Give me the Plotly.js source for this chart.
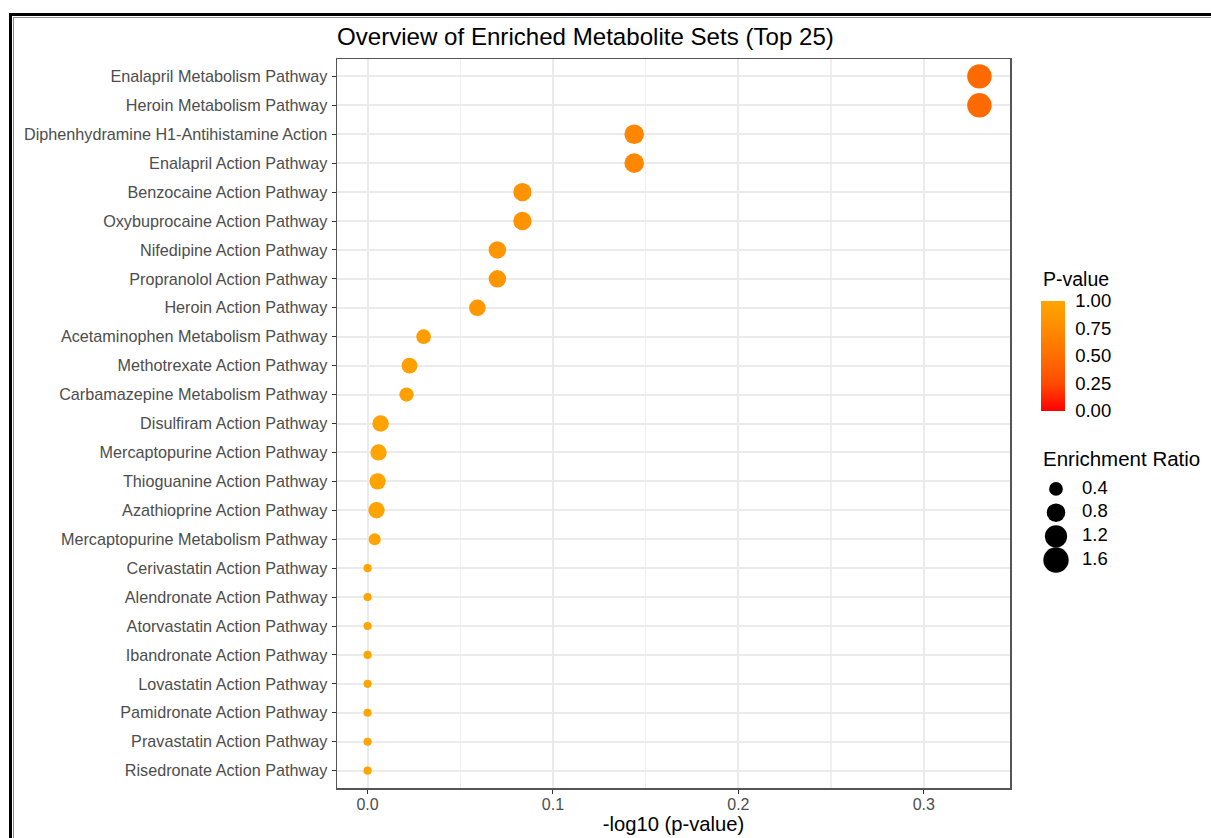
<!DOCTYPE html>
<html>
<head>
<meta charset="utf-8">
<script src="https://cdn.plot.ly/plotly-3.0.1.min.js"></script>
<style>
html,body{margin:0;padding:0;background:#fff;width:1211px;height:838px;overflow:hidden;}
#chart{position:absolute;left:0;top:0;width:1211px;height:838px;}
#frameOuter{position:absolute;left:9px;top:13px;width:1300px;height:900px;border-left:3px solid #000;border-top:3px solid #000;pointer-events:none;}
#frameInner{position:absolute;left:13px;top:17px;width:1300px;height:900px;border-left:1px solid #8a8a8a;border-top:1px solid #8a8a8a;pointer-events:none;}
</style>
</head>
<body>
<div id="chart"></div>
<div id="frameOuter"></div>
<div id="frameInner"></div>
<script>
// ---- data ----
const categories = [
  "Enalapril Metabolism Pathway",
  "Heroin Metabolism Pathway",
  "Diphenhydramine H1-Antihistamine Action",
  "Enalapril Action Pathway",
  "Benzocaine Action Pathway",
  "Oxybuprocaine Action Pathway",
  "Nifedipine Action Pathway",
  "Propranolol Action Pathway",
  "Heroin Action Pathway",
  "Acetaminophen Metabolism Pathway",
  "Methotrexate Action Pathway",
  "Carbamazepine Metabolism Pathway",
  "Disulfiram Action Pathway",
  "Mercaptopurine Action Pathway",
  "Thioguanine Action Pathway",
  "Azathioprine Action Pathway",
  "Mercaptopurine Metabolism Pathway",
  "Cerivastatin Action Pathway",
  "Alendronate Action Pathway",
  "Atorvastatin Action Pathway",
  "Ibandronate Action Pathway",
  "Lovastatin Action Pathway",
  "Pamidronate Action Pathway",
  "Pravastatin Action Pathway",
  "Risedronate Action Pathway"
];
const negLog10P = [0.330, 0.330, 0.1438, 0.1438, 0.0835, 0.0835, 0.0700, 0.0700, 0.0592,
  0.0302, 0.0226, 0.0210, 0.0070, 0.0059, 0.0054, 0.0048, 0.0038,
  0, 0, 0, 0, 0, 0, 0, 0];
const pValues = [0.468, 0.468, 0.718, 0.718, 0.825, 0.825, 0.851, 0.851, 0.873,
  0.933, 0.949, 0.953, 0.984, 0.987, 0.988, 0.989, 0.991,
  1, 1, 1, 1, 1, 1, 1, 1];
const enrichmentRatio = [1.47, 1.47, 0.90, 0.90, 0.78, 0.78, 0.70, 0.70, 0.62,
  0.47, 0.55, 0.44, 0.62, 0.60, 0.60, 0.60, 0.30,
  0.11, 0.11, 0.11, 0.11, 0.11, 0.11, 0.11, 0.11];
const xTickValues = [0, 0.1, 0.2, 0.3];
const xTickLabels = ["0.0", "0.1", "0.2", "0.3"];
const pTickValues = [0, 0.25, 0.5, 0.75, 1];
const pTickLabels = ["0.00", "0.25", "0.50", "0.75", "1.00"];
const sizeBreaks = [0.4, 0.8, 1.2, 1.6];
const sizeBreakLabels = ["0.4", "0.8", "1.2", "1.6"];

// ---- styling / geometry ----
const W = 1211, H = 838;
const panel = {l: 337, r: 1010, t: 59, b: 788};
const FONT = "Liberation Sans, Arial, Helvetica, sans-serif";
// gradient red -> orange, interpolated in Lab like ggplot
const colorscale = [[0, "#FF0000"], [0.25, "#FF4B00"], [0.5, "#FF6E00"], [0.75, "#FF8B00"], [1, "#FFA500"]];
const sizeOf = v => 2 + 18.5 * Math.sqrt(v);

const main = {
  type: "scatter", mode: "markers",
  x: negLog10P, y: categories,
  xaxis: "x", yaxis: "y",
  cliponaxis: false,
  hoverinfo: "skip",
  marker: {
    size: enrichmentRatio.map(sizeOf),
    sizemode: "diameter",
    color: pValues,
    cmin: 0, cmax: 1,
    colorscale: colorscale,
    line: {width: 0},
    opacity: 1,
    showscale: true,
    colorbar: {
      x: 1041 / W, xanchor: "left", xref: "paper",
      y: 1 - 356 / H, yanchor: "middle", yref: "paper",
      len: 110, lenmode: "pixels",
      thickness: 24, thicknessmode: "pixels",
      xpad: 0, ypad: 0,
      outlinewidth: 0,
      tickmode: "array", tickvals: pTickValues, ticktext: pTickLabels,
      ticks: "outside", ticklen: 7, tickcolor: "rgba(0,0,0,0)", tickwidth: 1,
      tickfont: {family: FONT, size: 18.5, color: "#000"}
    }
  },
  showlegend: false
};

const sizeKeys = {
  type: "scatter", mode: "markers",
  x: sizeBreaks.map(() => 16), y: sizeBreaks.map((_, i) => i),
  xaxis: "x2", yaxis: "y2",
  cliponaxis: false, hoverinfo: "skip",
  marker: {size: sizeBreaks.map(sizeOf), color: "black", opacity: 1, line: {width: 0}},
  showlegend: false
};
const sizeLabels = {
  type: "scatter", mode: "text",
  x: sizeBreaks.map(() => 42), y: sizeBreaks.map((_, i) => i),
  xaxis: "x2", yaxis: "y2",
  text: sizeBreakLabels, textposition: "middle right",
  textfont: {family: FONT, size: 18.5, color: "#000"},
  cliponaxis: false, hoverinfo: "skip",
  showlegend: false
};

const keyStep = 23.7;
const keyMid = 524.5;
const layout = {
  width: W, height: H,
  margin: {l: 0, r: 0, t: 0, b: 0, pad: 0},
  paper_bgcolor: "#fff", plot_bgcolor: "#fff",
  font: {family: FONT, color: "#000"},
  hovermode: false,
  showlegend: false,
  title: {
    text: "Overview of Enriched Metabolite Sets (Top 25)",
    x: panel.l / W, xanchor: "left", xref: "container",
    y: 1 - 37 / H, yanchor: "middle", yref: "container",
    font: {family: FONT, size: 24.1, color: "#000"}
  },
  xaxis: {
    domain: [panel.l / W, panel.r / W], anchor: "y",
    range: [-0.0165, 0.3465],
    tickmode: "array", tickvals: xTickValues, ticktext: xTickLabels,
    ticks: "outside", ticklen: 4, tickcolor: "#333", tickwidth: 1,
    ticklabelstandoff: -3,
    tickfont: {family: FONT, size: 16, color: "#4D4D4D"},
    showgrid: true, gridcolor: "#EBEBEB", gridwidth: 2,
    minor: {dtick: 0.05, tick0: 0, showgrid: true, gridcolor: "#EFEFEF", gridwidth: 1.5, ticks: ""},
    zeroline: false,
    showline: true, linecolor: "#555", linewidth: 1.5, mirror: true,
    title: {text: "-log10 (p-value)", font: {family: FONT, size: 20.2, color: "#000"}, standoff: 0},
    automargin: false, fixedrange: true
  },
  yaxis: {
    domain: [1 - panel.b / H, 1 - panel.t / H], anchor: "x",
    type: "category", categoryorder: "array", categoryarray: categories,
    range: [categories.length - 0.4, -0.6],
    ticks: "outside", ticklen: 4, tickcolor: "#333", tickwidth: 1,
    ticklabelstandoff: 1,
    tickfont: {family: FONT, size: 16.2, color: "#4D4D4D"},
    showgrid: true, gridcolor: "#EBEBEB", gridwidth: 2,
    zeroline: false,
    showline: true, linecolor: "#555", linewidth: 1.5, mirror: true,
    automargin: false, fixedrange: true
  },
  xaxis2: {
    domain: [1040 / W, 1120 / W], anchor: "y2", range: [0, 80],
    visible: false, fixedrange: true
  },
  yaxis2: {
    domain: [1 - (keyMid + 2 * keyStep) / H, 1 - (keyMid - 2 * keyStep) / H], anchor: "x2",
    range: [3.5, -0.5], visible: false, fixedrange: true
  },
  annotations: [
    {text: "P-value", xref: "paper", yref: "paper", x: 1041 / W, y: 1 - 279 / H,
     xanchor: "left", yanchor: "middle", showarrow: false,
     font: {family: FONT, size: 19.5, color: "#000"}},
    {text: "Enrichment Ratio", xref: "paper", yref: "paper", x: 1041 / W, y: 1 - 458 / H,
     xanchor: "left", yanchor: "middle", showarrow: false,
     font: {family: FONT, size: 20.5, color: "#000"}}
  ]
};

Plotly.newPlot("chart", [main, sizeKeys, sizeLabels], layout, {displayModeBar: false, staticPlot: true});
</script>
</body>
</html>
